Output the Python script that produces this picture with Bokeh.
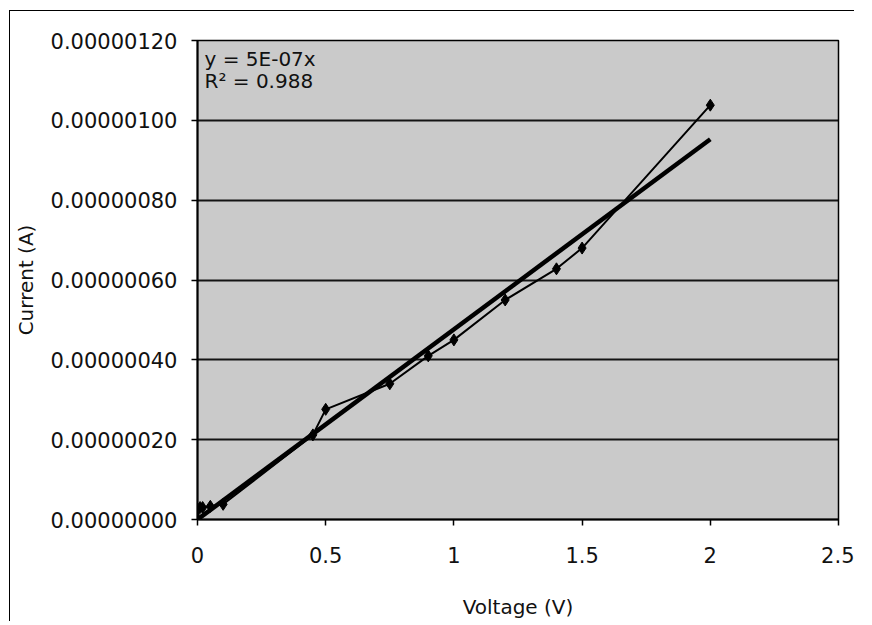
import numpy as np
from bokeh.plotting import figure
from bokeh.models import FixedTicker, PrintfTickFormatter, Range1d, Label
from bokeh.embed import file_html
from bokeh.resources import INLINE

# Data
voltage = [0.0, 0.01, 0.02, 0.05, 0.1, 0.45, 0.5, 0.75, 0.9, 1.0, 1.2, 1.4, 1.5, 2.0]
current = [0.0, 0.30e-7, 0.30e-7, 0.33e-7, 0.38e-7, 2.12e-7, 2.76e-7, 3.40e-7,
           4.10e-7, 4.50e-7, 5.50e-7, 6.28e-7, 6.80e-7, 10.38e-7]
x_ticks = [0, 0.5, 1, 1.5, 2, 2.5]
x_tick_labels = ["0", "0.5", "1", "1.5", "2", "2.5"]
y_ticks = [0, 2e-7, 4e-7, 6e-7, 8e-7, 10e-7, 12e-7]
trend_x = [0.0, 2.0]
equation_text = "y = 5E-07x"
r2_text = "R² = 0.988"

# Linear trendline through origin (least squares), as the spreadsheet does
vx = np.array(voltage)
vy = np.array(current)
slope = float((vx * vy).sum() / (vx * vx).sum())
trend_y = [slope * t for t in trend_x]

FONT = "DejaVu Sans"

p = figure(output_backend="svg", toolbar_location=None,
           frame_width=641, frame_height=479,
           min_border_left=150, min_border_top=29, min_border_right=16, min_border_bottom=94,
           x_range=Range1d(0, 2.5), y_range=Range1d(0, 1.2e-6))
p.styles = {"border-left": "1px solid black", "border-top": "1px solid black",
            "margin-left": "9px", "margin-top": "10px"}

p.background_fill_color = "#cacaca"
p.border_fill_color = "white"
p.outline_line_color = "black"
p.outline_line_width = 1.5

p.xgrid.grid_line_color = None
p.ygrid.grid_line_color = "black"
p.ygrid.grid_line_width = 2
p.ygrid.grid_line_alpha = 0.9

p.xaxis.ticker = FixedTicker(ticks=x_ticks)
p.xaxis.major_label_overrides = {t: l for t, l in zip(x_ticks, x_tick_labels)}
p.yaxis.ticker = FixedTicker(ticks=y_ticks)
p.yaxis.formatter = PrintfTickFormatter(format="%.8f")

for ax in (p.xaxis, p.yaxis):
    ax.axis_line_color = "black"
    ax.axis_line_width = 2
    ax.major_tick_line_color = "black"
    ax.major_tick_line_width = 1.5
    ax.major_tick_out = 6
    ax.major_tick_in = 0
    ax.minor_tick_line_color = None
    ax.major_label_text_font = FONT
    ax.major_label_text_font_size = "21px"
    ax.major_label_text_color = "#111111"
    ax.axis_label_text_font = FONT
    ax.axis_label_text_font_size = "20px"
    ax.axis_label_text_font_style = "normal"
    ax.axis_label_text_color = "#111111"

p.xaxis.axis_label = "Voltage (V)"
p.yaxis.axis_label = "Current (A)"
p.xaxis.major_label_standoff = 21
p.yaxis.major_label_standoff = 14
p.xaxis.axis_label_standoff = 29
p.yaxis.axis_label_standoff = 10

p.line(trend_x, trend_y, line_color="black", line_width=4.5)
p.line(voltage, current, line_color="black", line_width=2)
p.scatter(voltage, current, marker="diamond", size=12, fill_color="black", line_color="black")

p.add_layout(Label(x=7, y=479 - 6, x_units="screen", y_units="screen", text=equation_text,
                   text_font=FONT, text_font_size="20px", text_baseline="top", text_color="#111111"))
p.add_layout(Label(x=7, y=479 - 28, x_units="screen", y_units="screen", text=r2_text,
                   text_font=FONT, text_font_size="20px", text_baseline="top", text_color="#111111"))

open("out.html", "w").write(file_html(p, INLINE))
